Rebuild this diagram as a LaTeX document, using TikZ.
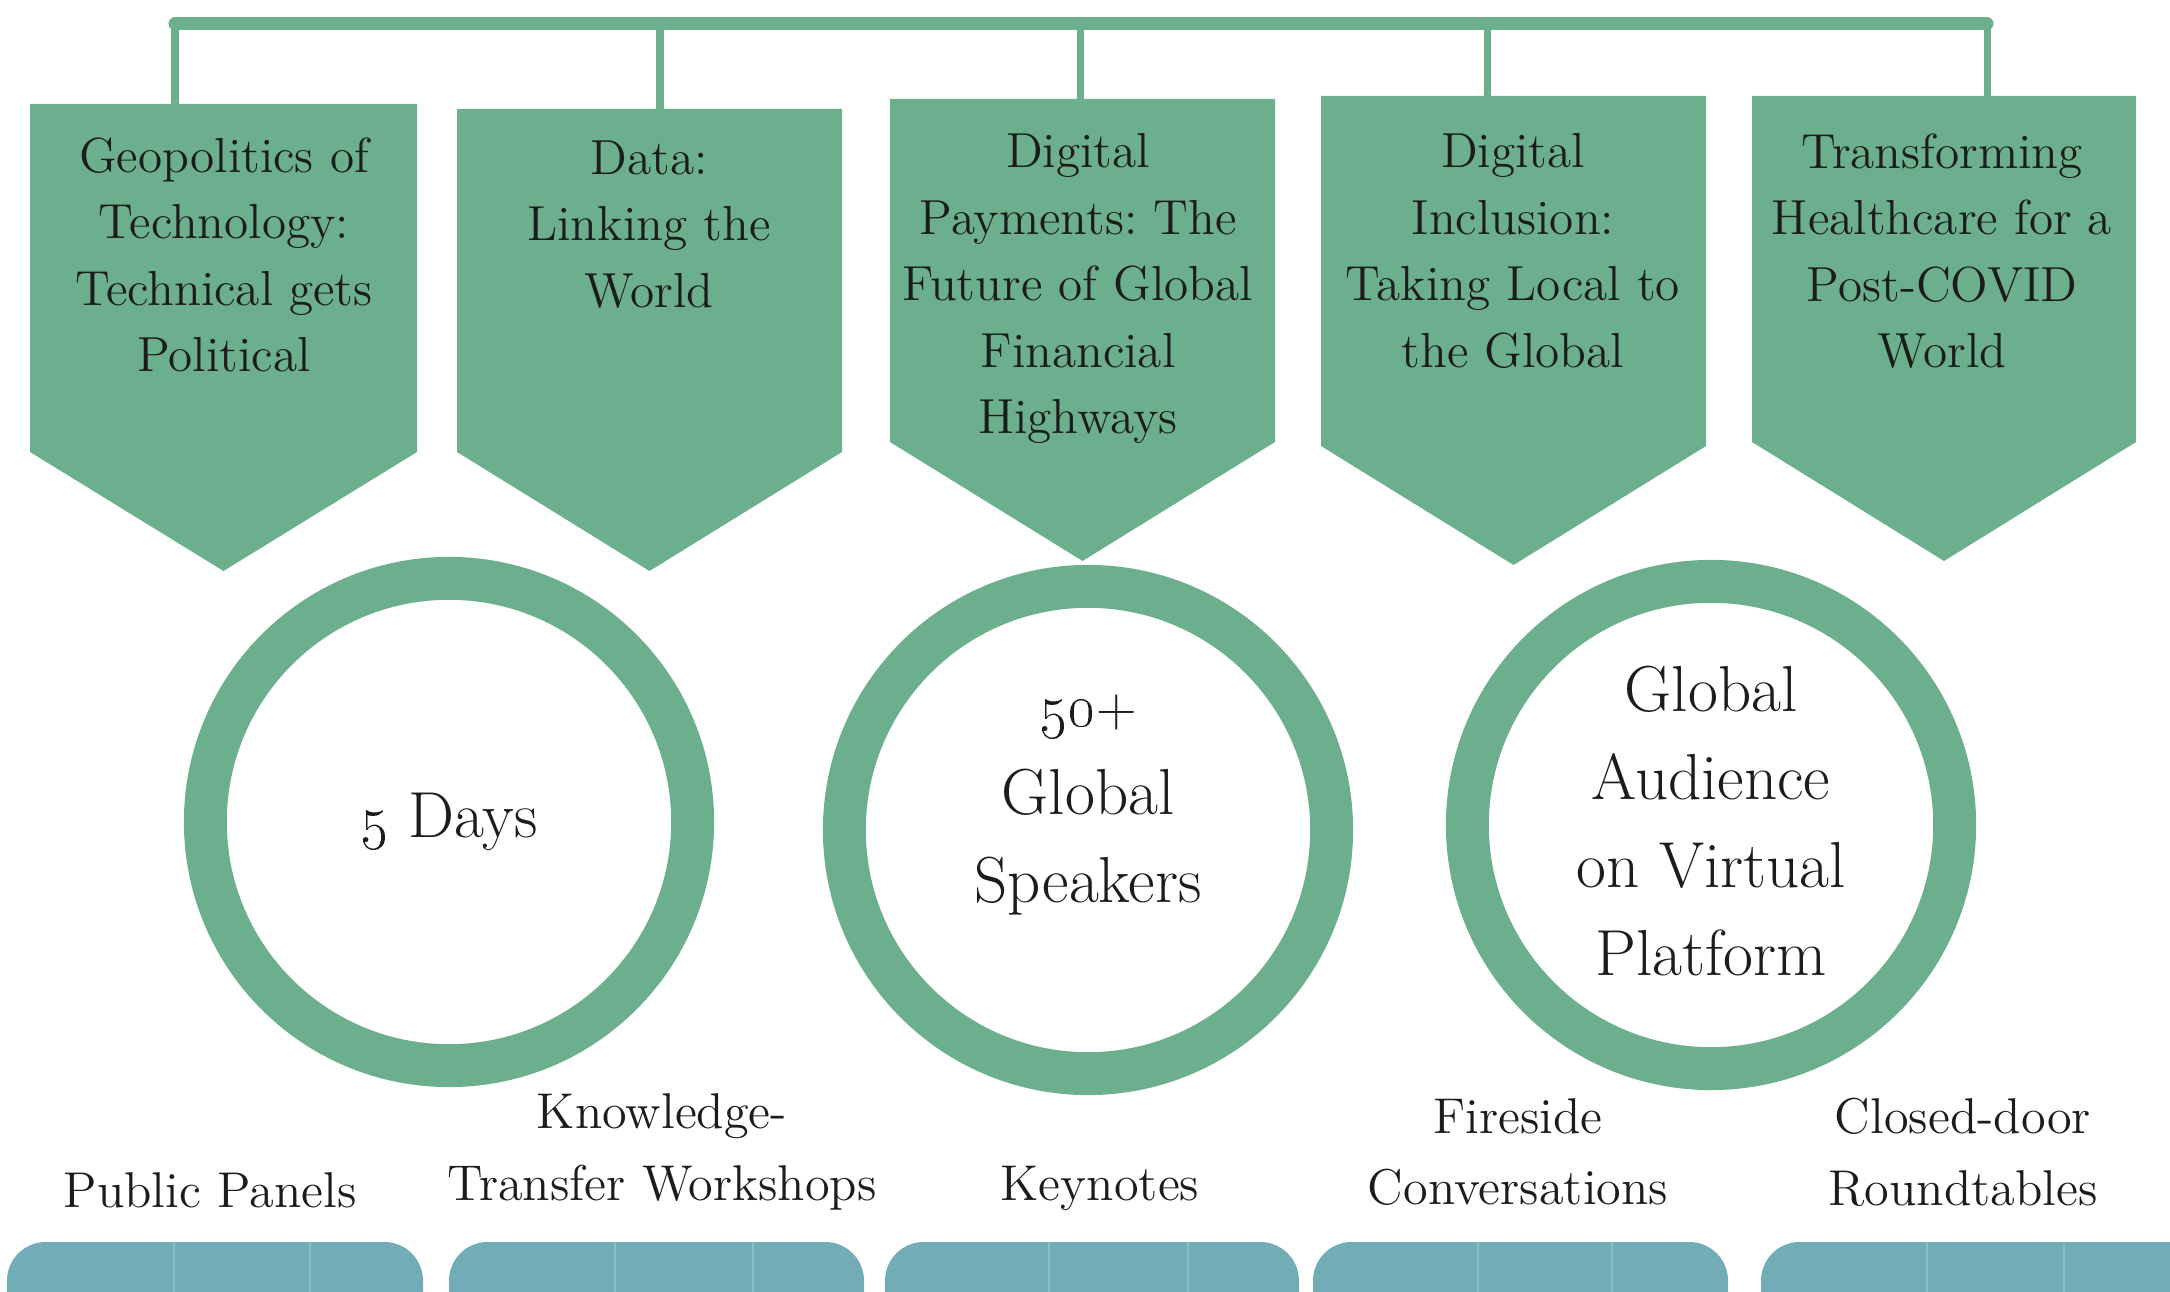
\documentclass[tikz,border=0pt]{standalone}
\usepackage{tikz}
\definecolor{leaf}{RGB}{108,175,141}
\definecolor{pool}{RGB}{114,173,183}
\definecolor{ink}{RGB}{28,28,28}
\tikzset{
	banner/.style={fill=leaf},
	tree/.style={draw=leaf, line width=2pt},
	rail/.style={draw=leaf, line width=3.7pt, line cap=round},
	bannertext/.style={anchor=north, align=center, inner sep=0pt, text=ink,
			font=\fontsize{14}{18.9}\selectfont},
	ring/.style={circle, draw=leaf, line width=12.2pt, minimum size=4.87cm, inner sep=0pt},
	ringtext/.style={align=center, inner sep=0pt, text=ink, font=\fontsize{18.5}{25}\selectfont},
	format/.style={align=center, inner sep=0pt, text=ink, font=\fontsize{14.3}{20.4}\selectfont},
	pill/.style={fill=pool, rounded corners=11pt},
	seam/.style={draw=pool!82!white, line width=0.5pt}
}
\frenchspacing

\begin{document}
\begin{tikzpicture}[x=0.01cm, y=-0.01cm]
		\clip (0,0) rectangle (2170,1292);
		% Banners
		\foreach \l/\r/\t/\b in {30/417/104/452, 457/842/109/452, 890/1275/99/442, 1321/1706/96/446, 1752/2136/96/442}
			\fill[banner] (\l,\t) -- (\r,\t) -- (\r,\b) -- ({(\l+\r)/2},{\b+119}) -- (\l,\b) -- cycle;
		\node[bannertext] (geo) at (224,137) {Geopolitics of\\Technology:\\Technical gets\\Political};
		\node[bannertext] (data) at (649,140) {Data:\\Linking the\\World};
		\node[bannertext] (pay) at (1078,133) {Digital\\Payments: The\\Future of Global\\Financial\\Highways};
		\node[bannertext] (incl) at (1513,133) {Digital\\Inclusion:\\Taking Local to\\the Global};
		\node[bannertext] (health) at (1942,133) {Transforming\\Healthcare for a\\Post-COVID\\World};
		% Rail and drops
		\foreach \i/\x/\t in {1/175/104, 2/660/109, 3/1080/99, 4/1487/96, 5/1987/96} {
			\coordinate (hub\i) at (\x,24);
			\coordinate (top\i) at (\x,\t);
		}
		\draw[rail] (hub1) -- (hub5);
		\foreach \i in {1,...,5}
			\draw[tree] (hub\i) -- (top\i);
		% Rings
		\node[ring] (days) at (449,822) {};
		\node[ring] (speakers) at (1088,830) {};
		\node[ring] (audience) at (1711,825) {};
		\node[ringtext] at (days) {\oldstylenums{5} Days};
		\node[ringtext] (speakerstext) at (1088,805) {{\fontsize{16}{25}\selectfont\oldstylenums{50}+}\\Global\\Speakers};
		\node[ringtext] (audiencetext) at (1711,821) {Global\\Audience\\on Virtual\\Platform};
		% Formats
		\node[format] (panels) at (210,1190) {Public Panels};
		\node[format] (workshops) at (662,1152) {Knowledge-\\Transfer Workshops};
		\node[format] (keynotes) at (1100,1188) {Keynotes};
		\node[format] (fireside) at (1518,1152) {Fireside\\Conversations};
		\node[format] (roundtables) at (1963,1152) {Closed-door\\Roundtables};
		% Pills
		\foreach \l/\r in {7/423, 449/864, 885/1299, 1313/1728, 1761/2220}
			\fill[pill] (\l,1242) rectangle (\r,1340);
		\foreach \x in {174,310,615,753,1049,1188,1478,1612,1927,2064}
			\draw[seam] (\x,1242) -- (\x,1292);
	\end{tikzpicture}
\end{document}
